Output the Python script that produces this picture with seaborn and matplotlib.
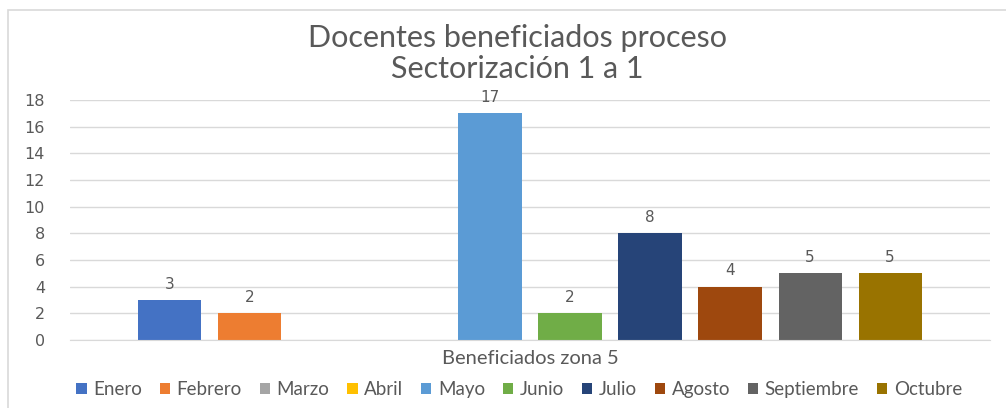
import pandas as pd
import numpy as np
import matplotlib.pyplot as plt
import seaborn as sns
from matplotlib.patches import Rectangle

# Datos
categoria = ["Beneficiados zona 5"]
meses = ["Enero", "Febrero", "Marzo", "Abril", "Mayo", "Junio",
         "Julio", "Agosto", "Septiembre", "Octubre"]
valores = [3, 2, 0, 0, 17, 2, 8, 4, 5, 5]
colores = ["#4472C4", "#ED7D31", "#A5A5A5", "#FFC000", "#5B9BD5",
           "#70AD47", "#264478", "#9E480E", "#636363", "#997300"]

df = pd.DataFrame({"Zona": categoria * len(meses), "Mes": meses, "Valor": valores})

sns.set_style("white")
gris = "#595959"
fuente_txt = ["Lato", "DejaVu Sans"]

fig = plt.figure(figsize=(10.06, 4.08), dpi=100)
ax = fig.add_axes([0.0696, 0.1667, 0.9145, 0.588])

sns.barplot(data=df, x="Zona", y="Valor", hue="Mes", hue_order=meses,
            palette=colores, width=0.87, gap=0.21, saturation=1, ax=ax,
            errorbar=None, legend=True, linewidth=0)

# Etiquetas de datos
for cont, v in zip(ax.containers, valores):
    etiquetas = [str(v) if v > 0 else ""]
    ax.bar_label(cont, labels=etiquetas, padding=6, color=gris, fontsize=11)

ax.set_xlim(-0.5, 0.5)
ax.set_ylim(0, 18)
ax.set_yticks(range(0, 19, 2))
ax.yaxis.grid(True, color="#D9D9D9", linewidth=1)
ax.set_axisbelow(True)
for s in ["top", "right", "left"]:
    ax.spines[s].set_visible(False)
ax.spines["bottom"].set_color("#D9D9D9")
ax.tick_params(axis="y", length=0, pad=18, labelcolor=gris, labelsize=11.5)
ax.tick_params(axis="x", length=0, pad=7, labelcolor=gris)
for t in ax.get_xticklabels():
    t.set_family(fuente_txt)
    t.set_fontsize(14.5)
ax.set_xlabel("")
ax.set_ylabel("")

fig.text(0.514, 0.94, "Docentes beneficiados proceso\nSectorización 1 a 1",
         ha="center", va="top", fontsize=22, color=gris, family=fuente_txt,
         linespacing=1.12)

handles, labels = ax.get_legend_handles_labels()
ax.get_legend().remove()
fig.legend(handles, labels, loc="center", bbox_to_anchor=(0.516, 0.045), ncol=10,
           frameon=False, handlelength=0.55, handleheight=0.55, handletextpad=0.35,
           columnspacing=0.95, prop={"family": fuente_txt, "size": 13.5},
           labelcolor=gris)

# Marco del gráfico
fig.patches.append(Rectangle((0.008, -0.05), 1.1, 1.025, transform=fig.transFigure,
                             fill=False, edgecolor="#D9D9D9", linewidth=1.2))

fig.savefig("out.png", dpi=100)
